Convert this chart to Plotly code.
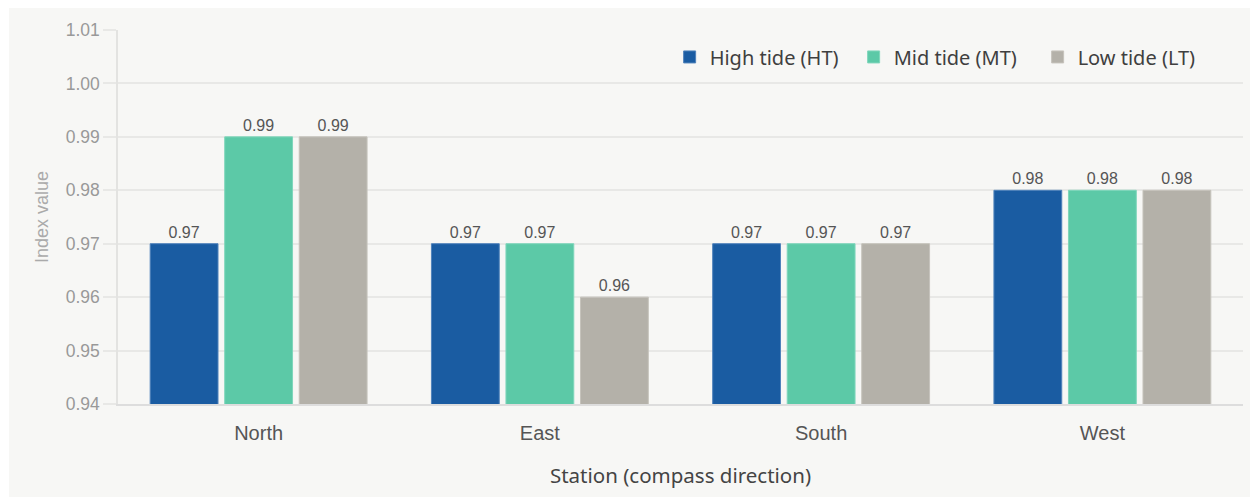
import plotly.graph_objects as go

# Tidal index by station
stations = ["North", "East", "South", "West"]
high_tide = [0.97, 0.97, 0.97, 0.98]
mid_tide = [0.99, 0.97, 0.97, 0.98]
low_tide = [0.99, 0.96, 0.97, 0.98]

series_names = ["High tide (HT)", "Mid tide (MT)", "Low tide (LT)"]
series_values = [high_tide, mid_tide, low_tide]
fill_colors = ["#1a5ca2", "#5cc9a7", "#b4b1a9"]
edge_colors = ["#4f82bb", "#7fd6bb", "#c6c3bc"]

y_ticks = [0.94, 0.95, 0.96, 0.97, 0.98, 0.99, 1.00, 1.01]

fig = go.Figure()
for name, vals, fc, ec in zip(series_names, series_values, fill_colors, edge_colors):
    fig.add_trace(go.Bar(
        x=stations,
        y=vals,
        name=name,
        marker=dict(color=fc, line=dict(color=ec, width=1)),
        text=[f"{v:.2f}" for v in vals],
        textposition="outside",
        textfont=dict(family="Liberation Sans, Arial", size=16, color="#555555"),
        cliponaxis=False,
    ))

# Panel background inset from the page edge
fig.add_shape(
    type="rect", xref="paper", yref="paper",
    x0=-0.0969, x1=1.02, y0=-0.3, y1=1.0588,
    fillcolor="#f7f7f5", line=dict(width=0), layer="below",
)

fig.update_layout(
    width=1250, height=497,
    margin=dict(l=118, r=7, t=30, b=93),
    paper_bgcolor="#ffffff",
    plot_bgcolor="rgba(0,0,0,0)",
    barmode="group",
    bargap=0.205,
    bargroupgap=0.09,
    font=dict(family="Noto Sans, sans-serif", color="#444444"),
    legend=dict(
        orientation="h",
        x=0.981, xanchor="right",
        y=0.928, yanchor="middle",
        font=dict(family="Noto Sans, sans-serif", size=20, color="#3f3f3f"),
        bgcolor="rgba(0,0,0,0)",
        itemwidth=30,
        entrywidth=139,
        entrywidthmode="pixels",
        traceorder="normal",
    ),
    xaxis=dict(
        title=dict(text="Station (compass direction)", standoff=26,
                   font=dict(family="Noto Sans, sans-serif", size=20.5, color="#444444")),
        tickfont=dict(family="Liberation Sans, Arial", size=20, color="#555555"),
        ticklabelstandoff=10,
        showline=True, linecolor="#dddddd", linewidth=2,
        showgrid=False,
        ticks="",
    ),
    yaxis=dict(
        title=dict(text="Index value", standoff=12,
                   font=dict(family="Liberation Sans, Arial", size=18, color="#aaaaaa")),
        range=[0.94, 1.01],
        tickvals=y_ticks,
        tickformat=".2f",
        tickfont=dict(family="Liberation Sans, Arial", size=17.5, color="#999999"),
        showgrid=True, gridcolor="#e8e8e6", gridwidth=1.5,
        showline=True, linecolor="#e3e3e1", linewidth=1.5,
        ticks="outside", ticklen=13, tickcolor="#e8e8e6", tickwidth=1.5,
        zeroline=False,
    ),
)

fig.write_html("out.html")
